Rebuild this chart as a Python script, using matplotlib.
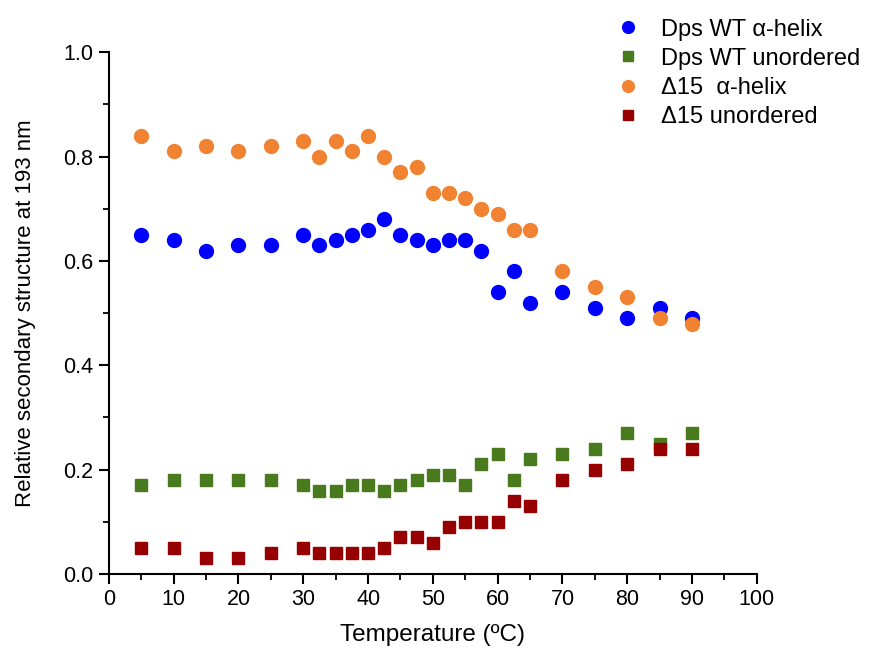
import matplotlib
matplotlib.use("Agg")
from matplotlib import pyplot as plt
from matplotlib.ticker import MultipleLocator

plt.rcParams['font.family'] = ['Liberation Sans', 'DejaVu Sans']

temps = [5, 10, 15, 20, 25, 30, 32.5, 35, 37.5, 40, 42.5, 45, 47.5, 50,
         52.5, 55, 57.5, 60, 62.5, 65, 70, 75, 80, 85, 90]
wt_helix = [0.65, 0.64, 0.62, 0.63, 0.63, 0.65, 0.63, 0.64, 0.65, 0.66, 0.68, 0.65, 0.64,
            0.63, 0.64, 0.64, 0.62, 0.54, 0.58, 0.52, 0.54, 0.51, 0.49, 0.51, 0.49]
wt_unord = [0.17, 0.18, 0.18, 0.18, 0.18, 0.17, 0.16, 0.16, 0.17, 0.17, 0.16, 0.17, 0.18,
            0.19, 0.19, 0.17, 0.21, 0.23, 0.18, 0.22, 0.23, 0.24, 0.27, 0.25, 0.27]
d15_helix = [0.84, 0.81, 0.82, 0.81, 0.82, 0.83, 0.80, 0.83, 0.81, 0.84, 0.80, 0.77, 0.78,
             0.73, 0.73, 0.72, 0.70, 0.69, 0.66, 0.66, 0.58, 0.55, 0.53, 0.49, 0.48]
d15_unord = [0.05, 0.05, 0.03, 0.03, 0.04, 0.05, 0.04, 0.04, 0.04, 0.04, 0.05, 0.07, 0.07,
             0.06, 0.09, 0.10, 0.10, 0.10, 0.14, 0.13, 0.18, 0.20, 0.21, 0.24, 0.24]

labels = ["Dps WT α-helix", "Dps WT unordered", "Δ15  α-helix", "Δ15 unordered"]

fig = plt.figure(figsize=(8.71, 6.53), dpi=100)
ax = fig.add_axes([0.125, 0.121, 0.744, 0.799])

ax.plot(temps, wt_helix, 'o', color='#0000ff', ms=10, label=labels[0])
ax.plot(temps, wt_unord, 's', color='#4a7a1e', ms=8.5, label=labels[1])
ax.plot(temps, d15_helix, 'o', color='#f08232', ms=10, label=labels[2])
ax.plot(temps, d15_unord, 's', color='#960000', ms=8.5, label=labels[3])

ax.set_xlim(0, 100)
ax.set_ylim(0, 1.0)
ax.xaxis.set_major_locator(MultipleLocator(10))
ax.xaxis.set_minor_locator(MultipleLocator(5))
ax.yaxis.set_major_locator(MultipleLocator(0.2))
ax.yaxis.set_minor_locator(MultipleLocator(0.1))
ax.yaxis.set_major_formatter(lambda v, p: f"{v:.1f}")
ax.spines['top'].set_visible(False)
ax.spines['right'].set_visible(False)
ax.spines['left'].set_linewidth(1.5)
ax.spines['bottom'].set_linewidth(1.5)
ax.tick_params(which='major', direction='out', length=7, width=1.5, labelsize=15.5, pad=4)
ax.tick_params(which='minor', direction='out', length=4, width=1.3)

ax.set_xlabel("Temperature (ºC)", fontsize=17.5, labelpad=10)
ax.set_ylabel("Relative secondary structure at 193 nm", fontsize=16, labelpad=20)

leg = ax.legend(loc='upper left', bbox_to_anchor=(0.683, 1.004), bbox_transform=fig.transFigure,
                frameon=False, fontsize=17, handletextpad=0.9, labelspacing=0.3,
                handlelength=1.0, markerscale=0.85)

fig.savefig("out.png", dpi=100)
